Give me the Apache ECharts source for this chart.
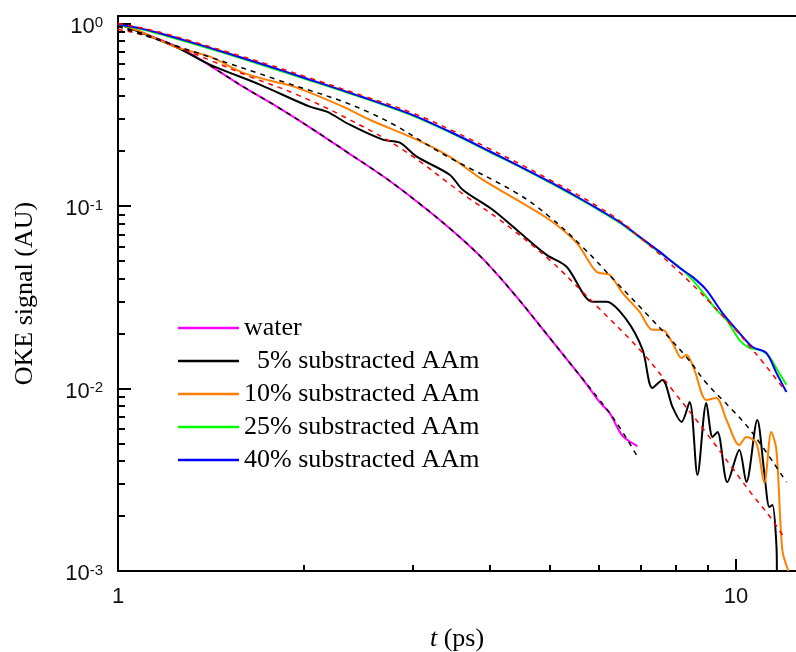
<!DOCTYPE html>
<html>
<head>
<meta charset="utf-8">
<script src="https://cdn.jsdelivr.net/npm/echarts@6/dist/echarts.min.js"></script>
<style>
html,body{margin:0;padding:0;background:#fff;}
#chart{width:796px;height:652px;}
</style>
</head>
<body>
<div id="chart"></div>
<script>
// ---- data: [t (ps), OKE signal] ----
const water = [[1,1.0],[1.126,0.859],[1.293,0.702],[1.592,0.451],[1.807,0.351],[2.043,0.27],[2.371,0.193],[2.682,0.146],[3.043,0.106],[3.44,0.0755],[3.89,0.0515],[4.414,0.0318],[4.99,0.0190],[5.32,0.0145],[5.644,0.0113],[6.012,0.00844],[6.242,0.00735],[6.551,0.0055],[6.925,0.00484]];
const aam5 = [[1,1.0],[1.246,0.738],[1.408,0.596],[1.696,0.463],[2.043,0.3505],[2.177,0.329],[2.371,0.279],[2.682,0.231],[2.857,0.2225],[3.043,0.1864],[3.44,0.1485],[3.611,0.1229],[4.038,0.0954],[4.414,0.0741],[4.936,0.054],[5.318,0.0465],[5.858,0.0299],[6.17,0.0299],[6.65,0.0238],[7.06,0.01628],[7.32,0.01008],[7.60,0.01115],[7.89,0.00793],[8.16,0.00656],[8.41,0.00844],[8.66,0.00336],[8.95,0.00834],[9.16,0.00543],[9.33,0.00578],[9.68,0.00307],[10.12,0.00461],[10.39,0.00307],[10.82,0.00673],[11.11,0.00344],[11.32,0.00224],[11.45,0.0023],[11.62,0.00139],[11.64,0.001]];
const aam10 = [[1,1.0],[1.1,0.888],[1.2,0.78],[1.246,0.738],[1.408,0.659],[1.592,0.538],[1.76,0.487],[1.947,0.4456],[2.311,0.3505],[2.554,0.297],[3.043,0.231],[3.44,0.1864],[3.89,0.1394],[4.414,0.1083],[4.99,0.0841],[5.52,0.0629],[5.945,0.0436],[6.24,0.042],[6.55,0.0334],[6.98,0.0263],[7.32,0.021],[7.60,0.021],[7.89,0.0178],[8.16,0.0147],[8.31,0.0153],[8.56,0.01265],[8.95,0.00866],[9.29,0.00888],[9.65,0.00672],[10.12,0.0049],[10.39,0.00543],[10.78,0.00503],[11.11,0.00304],[11.40,0.00578],[11.62,0.00461],[11.88,0.0013],[12.15,0.001]];
const aam25 = [[1,0.985],[1.1,0.925],[1.2,0.855],[1.3,0.79],[1.5,0.682],[1.75,0.578],[2,0.5],[2.5,0.39],[3,0.312],[3.5,0.247],[4,0.197],[4.5,0.162],[5,0.1345],[5.5,0.1125],[6,0.095],[6.5,0.0805],[6.98,0.0672],[7.5,0.056],[8.1,0.0462],[8.5,0.0394],[8.95,0.0318],[9.29,0.027],[9.65,0.0238],[10.12,0.0185],[10.51,0.0167],[11.03,0.0161],[11.32,0.0149],[11.62,0.0129],[12.06,0.0105]];
const aam40 = [[1,0.99],[1.1,0.932],[1.2,0.863],[1.3,0.799],[1.5,0.69],[1.75,0.585],[2,0.505],[2.5,0.393],[3,0.315],[3.5,0.249],[4,0.199],[4.5,0.163],[5,0.1355],[5.5,0.1135],[6,0.0958],[6.5,0.0812],[6.98,0.0679],[7.5,0.0566],[8.1,0.0459],[8.5,0.0409],[8.95,0.0347],[9.5,0.026],[10.12,0.0202],[10.63,0.0169],[11.19,0.01568],[11.62,0.01218],[12.06,0.00958]];
// fits (dashed)
const fitWater = [[1,0.97],[1.126,0.855],[1.293,0.70],[1.592,0.452],[1.807,0.351],[2.043,0.27],[2.371,0.193],[2.682,0.146],[3.043,0.106],[3.44,0.0755],[3.89,0.0515],[4.414,0.0318],[4.99,0.019],[5.644,0.0113],[6.012,0.00866],[6.41,0.00648],[6.90,0.00432]];
const fit5 = [[1,0.93],[1.139,0.835],[1.408,0.63],[1.634,0.512],[1.947,0.408],[2.371,0.297],[2.888,0.2036],[3.665,0.1125],[4.145,0.0841],[4.99,0.0507],[5.64,0.0339],[5.945,0.0284],[7.06,0.01568],[7.89,0.00982],[8.95,0.00571],[9.86,0.00367],[10.63,0.00261],[11.32,0.002],[11.97,0.00152]];
const fit10 = [[1,0.963],[1.408,0.655],[1.807,0.493],[2.554,0.325],[3.44,0.184],[4.41,0.118],[4.99,0.0874],[5.64,0.0598],[6.41,0.038],[7.24,0.0247],[8.31,0.0149],[8.95,0.01073],[9.86,0.00763],[10.63,0.00571],[12.06,0.00307]];
const fitTop = [[1,1.0],[1.1,0.94],[1.2,0.875],[1.3,0.81],[1.5,0.70],[1.75,0.597],[2,0.515],[2.5,0.40],[3,0.323],[3.5,0.256],[4,0.205],[4.5,0.168],[5,0.139],[5.5,0.117],[6,0.0985],[6.5,0.0825],[7,0.067],[7.5,0.0549],[8,0.0451],[8.5,0.0371],[9,0.0305],[9.5,0.0251],[10,0.0208],[10.5,0.01713],[11,0.0142],[11.5,0.01175],[12,0.00975]];
// ticks
const xMajor = [1, 10];
const xMinor = [2, 3, 4, 5, 6, 7, 8, 9];
const yMajor = [0.001, 0.01, 0.1, 1];
const yMinor = [0.002,0.003,0.004,0.005,0.006,0.007,0.008,0.009,0.02,0.03,0.04,0.05,0.06,0.07,0.08,0.09,0.2,0.3,0.4,0.5,0.6,0.7,0.8,0.9];
const names = ['water', '  5% substracted AAm', '10% substracted AAm', '25% substracted AAm', '40% substracted AAm'];
const colors = ['#ff00ff', '#000000', '#ff8000', '#00ff00', '#0000ff'];

const chart = echarts.init(document.getElementById('chart'), null, {renderer: 'canvas'});
const X_MIN = 1, X_MAX = 12.5, Y_MIN = 0.001, Y_MAX = 1.1;
const serif = '"Liberation Serif","Times New Roman",serif';
const sans = '"Liberation Sans",Arial,sans-serif';

function dataSeries(name, data, color) {
  return {name, type: 'line', data, xAxisIndex: 0, yAxisIndex: 0, showSymbol: false, symbol: 'none',
    smooth: 0.3, clip: true, lineStyle: {color, width: 2}, itemStyle: {color}, z: 2};
}
function fitSeries(name, data, color) {
  return {name, type: 'line', data, xAxisIndex: 0, yAxisIndex: 0, showSymbol: false, symbol: 'none',
    smooth: 0.4, clip: true, lineStyle: {color, width: 1.5, type: [5, 5]}, itemStyle: {color}, z: 3};
}
const baseX = {type: 'log', logBase: 10, min: X_MIN, max: X_MAX, gridIndex: 0, splitLine: {show: false}, minorTick: {show: false}, minorSplitLine: {show: false}};
const baseY = {type: 'log', logBase: 10, min: Y_MIN, max: Y_MAX, gridIndex: 0, splitLine: {show: false}, minorTick: {show: false}, minorSplitLine: {show: false}};

chart.setOption({
  animation: false,
  backgroundColor: '#fff',
  grid: {left: 118, right: 0, top: 16, bottom: 81, containLabel: false, outerBoundsMode: 'none'},
  legend: {
    show: true, orient: 'vertical', left: 173, top: 310, icon: 'rect', itemWidth: 61, itemHeight: 2.5,
    itemGap: 7, data: names,
    textStyle: {fontFamily: serif, fontSize: 26, color: '#000', lineHeight: 26}
  },
  xAxis: [
    Object.assign({}, baseX, {
      position: 'bottom',
      axisLine: {show: true, onZero: false, lineStyle: {color: '#000', width: 2}},
      axisTick: {show: true, inside: true, length: 12, customValues: xMajor, lineStyle: {color: '#000', width: 2}},
      axisLabel: {show: true, customValues: xMajor, formatter: v => String(Math.round(v)), fontFamily: sans, fontSize: 22, color: '#111', margin: 15},
      name: '{i|t} (ps)', nameLocation: 'middle', nameGap: 55,
      nameTextStyle: {fontFamily: serif, fontSize: 26, color: '#000', rich: {i: {fontFamily: serif, fontSize: 26, fontStyle: 'italic', color: '#000'}}}
    }),
    Object.assign({}, baseX, {
      position: 'bottom',
      axisLine: {show: false, onZero: false},
      axisTick: {show: true, inside: true, length: 6, customValues: xMinor, lineStyle: {color: '#000', width: 2}},
      axisLabel: {show: false}
    }),
    Object.assign({}, baseX, {
      position: 'top',
      axisLine: {show: true, onZero: false, lineStyle: {color: '#000', width: 2}},
      axisTick: {show: false},
      axisLabel: {show: false}
    })
  ],
  yAxis: [
    Object.assign({}, baseY, {
      position: 'left',
      axisLine: {show: true, onZero: false, lineStyle: {color: '#000', width: 2}},
      axisTick: {show: true, inside: true, length: 13, customValues: yMajor, lineStyle: {color: '#000', width: 2}},
      axisLabel: {
        show: true, customValues: yMajor, margin: 15,
        formatter: v => '{b|10}{s|' + Math.round(Math.log10(v)) + '}',
        rich: {
          b: {fontFamily: sans, fontSize: 22, color: '#111', lineHeight: 22, padding: [6, 0, 0, 0]},
          s: {fontFamily: sans, fontSize: 15, color: '#111', verticalAlign: 'top', lineHeight: 15, padding: [3, 0, 0, 0]}
        }
      },
      name: 'OKE signal (AU)', nameLocation: 'middle', nameGap: 80,
      nameTextStyle: {fontFamily: serif, fontSize: 26, color: '#000'}
    }),
    Object.assign({}, baseY, {
      position: 'left',
      axisLine: {show: false, onZero: false},
      axisTick: {show: true, inside: true, length: 7, customValues: yMinor, lineStyle: {color: '#000', width: 2}},
      axisLabel: {show: false}
    })
  ],
  series: [
    dataSeries(names[0], water, colors[0]),
    dataSeries(names[1], aam5, colors[1]),
    dataSeries(names[2], aam10, colors[2]),
    dataSeries(names[3], aam25, colors[3]),
    dataSeries(names[4], aam40, colors[4]),
    fitSeries('fit water', fitWater, '#000000'),
    fitSeries('fit 5%', fit5, '#ff0000'),
    fitSeries('fit 10%', fit10, '#000000'),
    fitSeries('fit 25/40%', fitTop, '#ff0000')
  ]
});
</script>
</body>
</html>
